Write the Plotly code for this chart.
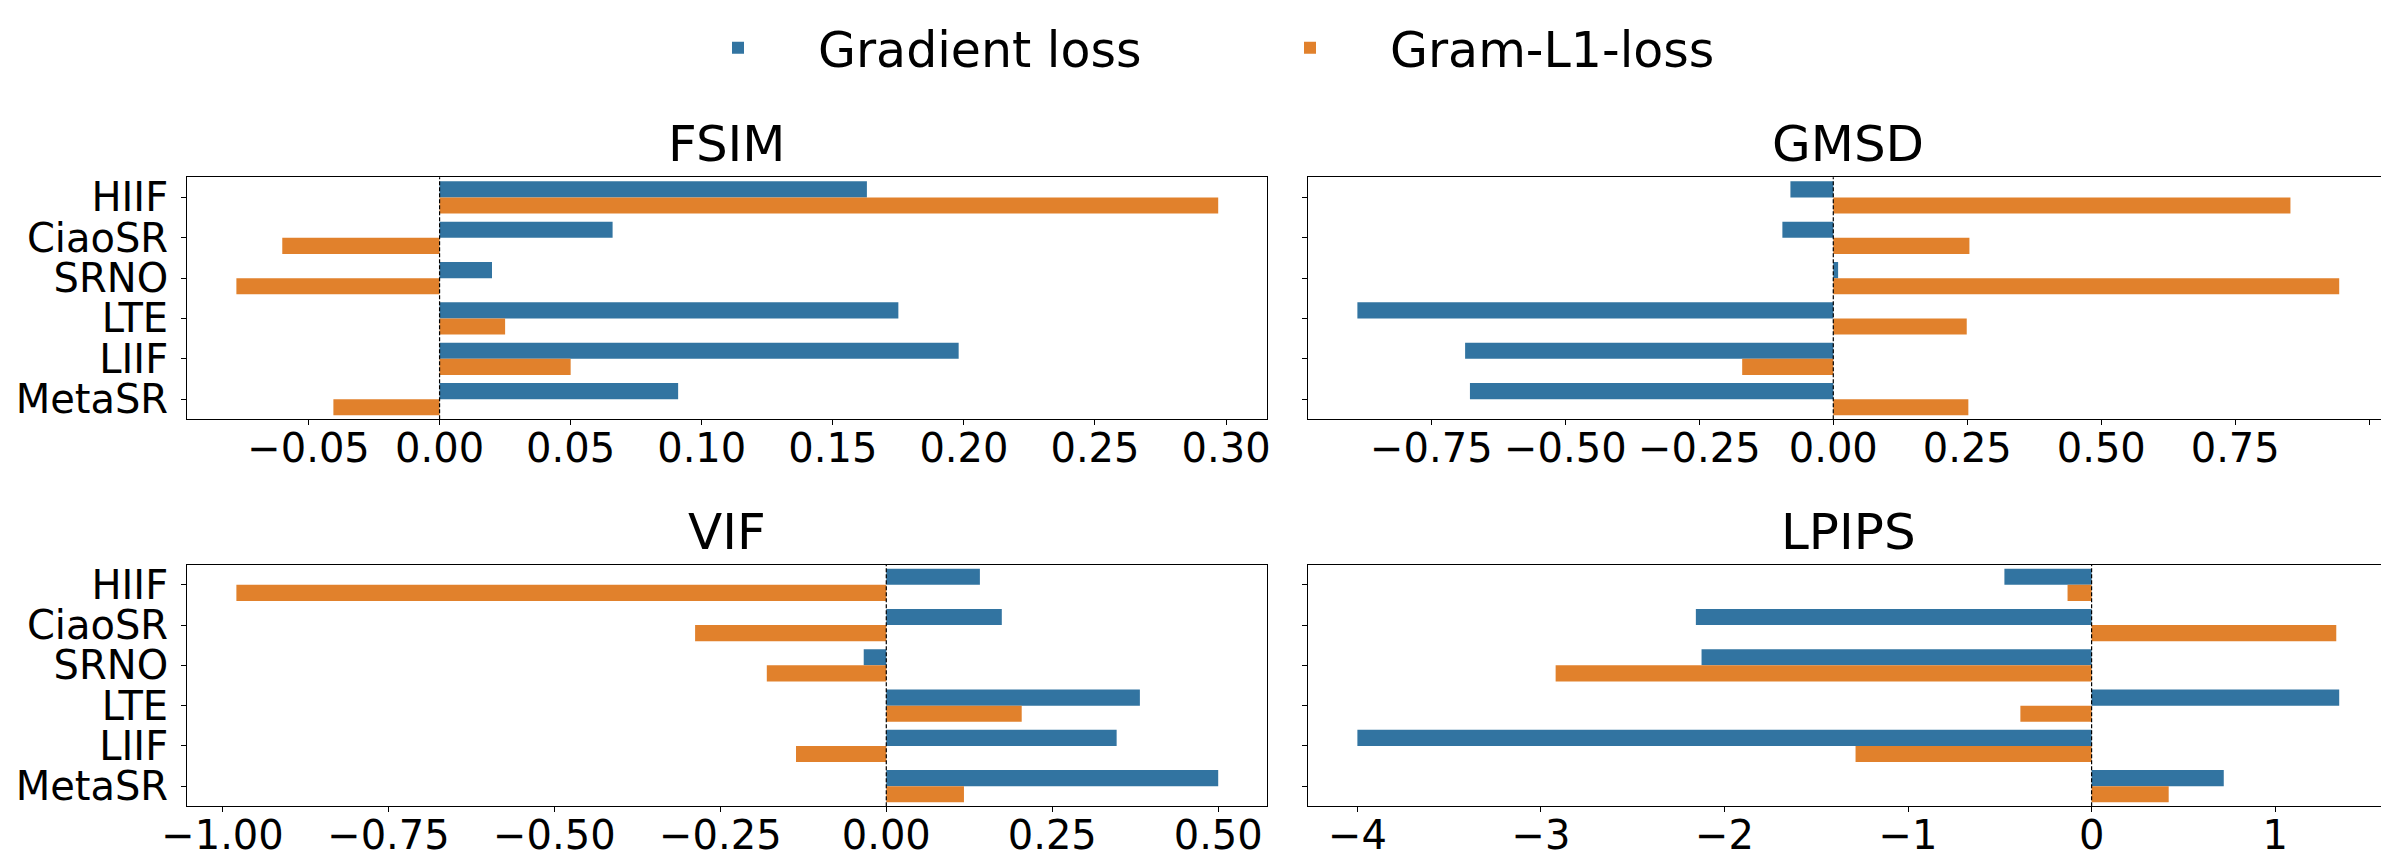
import plotly.graph_objects as go

# ---------------- data ----------------
methods = ["HIIF", "CiaoSR", "SRNO", "LTE", "LIIF", "MetaSR"]
series_names = ["Gradient loss", "Gram-L1-loss"]
series_colors = ["#3274a1", "#e1812c"]

fsim_gradient = [0.163, 0.066, 0.020, 0.175, 0.198, 0.091]
fsim_gram = [0.297, -0.060, -0.0775, 0.025, 0.050, -0.0405]

gmsd_gradient = [-0.080, -0.095, 0.009, -0.888, -0.687, -0.678]
gmsd_gram = [0.853, 0.254, 0.944, 0.249, -0.170, 0.252]

vif_gradient = [0.141, 0.174, -0.034, 0.382, 0.347, 0.50]
vif_gram = [-0.979, -0.288, -0.180, 0.204, -0.136, 0.117]

lpips_gradient = [-0.475, -2.156, -2.125, 1.349, -4.0, 0.72]
lpips_gram = [-0.131, 1.333, -2.92, -0.388, -1.286, 0.42]

panel_titles = ["FSIM", "GMSD", "VIF", "LPIPS"]
panel_dticks = [0.05, 0.25, 0.25, 1]
panel_formats = [".2f", ".2f", ".2f", "d"]
panel_data = [
    (fsim_gradient, fsim_gram),
    (gmsd_gradient, gmsd_gram),
    (vif_gradient, vif_gram),
    (lpips_gradient, lpips_gram),
]

# ---------------- layout geometry ----------------
W, H = 2389, 860
x_domains = [[179.3 / W, 1259.3 / W], [1300.3 / W, 2380.3 / W]]
y_domains = [[(H - 411.3) / H, (H - 169.3) / H], [(H - 798.3) / H, (H - 556.7) / H]]

FONT = "DejaVu Sans"
TICK_SIZE = 40

fig = go.Figure()
layout_axes = {}
annotations = []
shapes = []

for i, (title, dtick, fmt, (grad, gram)) in enumerate(
        zip(panel_titles, panel_dticks, panel_formats, panel_data)):
    row, col = divmod(i, 2)
    n = i + 1
    xname = "x" if n == 1 else f"x{n}"
    yname = "y" if n == 1 else f"y{n}"
    for s, (vals, name, color) in enumerate(zip((grad, gram), series_names, series_colors)):
        fig.add_trace(go.Bar(
            x=vals, y=methods, orientation="h", name=name,
            marker=dict(color=color, line=dict(width=0)),
            xaxis=xname, yaxis=yname, showlegend=(i == 0),
            legendgroup=name,
        ))
    allv = list(grad) + list(gram) + [0]
    lo, hi = min(allv), max(allv)
    pad = 0.05 * (hi - lo)
    layout_axes[f"xaxis{'' if n == 1 else n}"] = dict(
        domain=x_domains[col], anchor=yname, range=[lo - pad, hi + pad],
        tickmode="linear", dtick=dtick, tick0=0, tickformat=fmt,
        showgrid=False, zeroline=False, automargin=False,
        showline=True, mirror=True, linecolor="black", linewidth=1.3,
        ticks="outside", ticklen=5, tickcolor="black", tickwidth=1.2,
        ticklabelstandoff=-11,
        tickfont=dict(size=TICK_SIZE, color="black", family=FONT),
    )
    layout_axes[f"yaxis{'' if n == 1 else n}"] = dict(
        domain=y_domains[row], anchor=xname, type="category",
        categoryorder="array", categoryarray=methods, range=[5.5, -0.5],
        tickmode="linear", dtick=1, tick0=0,
        showgrid=False, zeroline=False, automargin=False,
        showline=True, mirror=True, linecolor="black", linewidth=1.3,
        ticks="outside", ticklen=5, tickcolor="black", tickwidth=1.2,
        ticklabelstandoff=5,
        showticklabels=(col == 0),
        tickfont=dict(size=TICK_SIZE, color="black", family=FONT),
    )
    # dashed reference line at zero
    shapes.append(dict(
        type="line", xref=xname, yref=f"{yname} domain", x0=0, x1=0, y0=0, y1=1,
        line=dict(color="black", width=1.2, dash="4px,2px"), layer="above",
    ))
    annotations.append(dict(
        text=title, xref="paper", yref="paper",
        x=sum(x_domains[col]) / 2, y=y_domains[row][1], xanchor="center",
        yanchor="bottom", yshift=2, showarrow=False,
        font=dict(size=50, color="black", family=FONT),
    ))

fig.update_layout(
    template="none",
    width=W, height=H,
    margin=dict(l=0, r=0, t=0, b=0, autoexpand=False),
    paper_bgcolor="white", plot_bgcolor="white",
    barmode="group", bargap=0.2, bargroupgap=0,
    font=dict(family=FONT, color="black"),
    legend=dict(
        orientation="h", x=650 / W, xanchor="left", y=1 - 40 / H, yanchor="middle",
        font=dict(size=49, color="black", family=FONT),
        bgcolor="rgba(0,0,0,0)", itemwidth=150, traceorder="normal",
        entrywidth=407, entrywidthmode="pixels", borderwidth=0,
    ),
    annotations=annotations,
    shapes=shapes,
    **layout_axes,
)

fig.write_html("out.html")
